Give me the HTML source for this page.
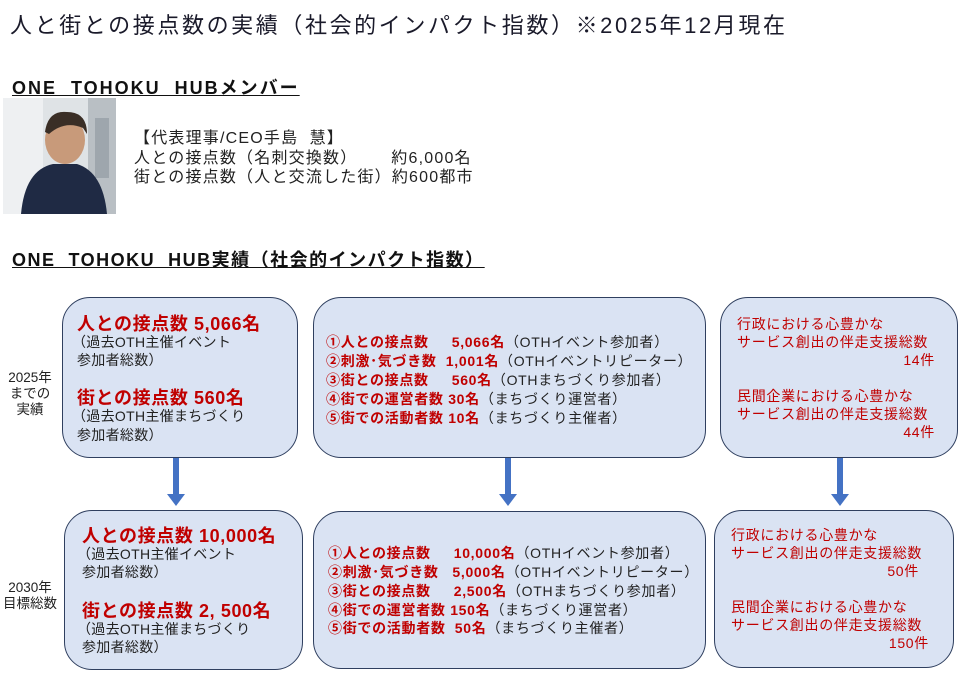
<!DOCTYPE html>
<html><head><meta charset="utf-8"><style>
body{margin:0;width:975px;height:676px;background:#fff;position:relative;overflow:hidden;font-family:"Liberation Sans","Noto Sans CJK JP",sans-serif;color:#222}
.a{position:absolute;white-space:pre;line-height:20px}
.box{position:absolute;background:#dae3f3;border:1.5px solid #2f3f5f;border-radius:28px;box-sizing:border-box}
.r{color:#c00000}
.b{font-weight:bold}
.s{font-size:14px;letter-spacing:0.3px}
.m{font-size:14px;letter-spacing:0.7px}
.h{font-size:18px;font-weight:bold;color:#c00000;letter-spacing:0.6px}
.arrow{position:absolute;width:6px;background:#4472c4}
.tri{position:absolute;width:0;height:0;border-left:9px solid transparent;border-right:9px solid transparent;border-top:12px solid #4472c4}
</style></head><body>
<div class="a" style="left:10px;top:12px;font-size:22px;line-height:28px;letter-spacing:2.6px;color:#1a1a2a">人と街との接点数の実績（社会的インパクト指数）※2025年12月現在</div>
<div class="a" style="left:12px;top:76px;font-size:18px;font-weight:bold;letter-spacing:2px;line-height:24px;text-decoration:underline;color:#111">ONE  TOHOKU  HUBメンバー</div>
<div class="a" style="left:12px;top:248px;font-size:18px;font-weight:bold;letter-spacing:1.5px;line-height:24px;text-decoration:underline;color:#111">ONE  TOHOKU  HUB実績（社会的インパクト指数）</div>

<svg style="position:absolute;left:3px;top:98px" width="113" height="116">
<rect width="113" height="116" fill="#dfe3e6"/>
<rect x="0" y="0" width="40" height="116" fill="#eef0f2"/>
<rect x="85" y="0" width="28" height="116" fill="#b9bfc4"/>
<rect x="92" y="20" width="14" height="60" fill="#9ea6ad"/>
<ellipse cx="62" cy="42" rx="20" ry="24" fill="#c89a7a"/>
<path d="M42 34 Q45 12 64 14 Q84 14 84 36 L80 30 Q62 22 46 36Z" fill="#3a2e26"/>
<path d="M18 116 Q22 72 50 66 L74 66 Q100 74 104 116Z" fill="#1f2a44"/>
</svg>
<div class="a" style="left:134px;top:129px;font-size:16px;letter-spacing:1.2px">【代表理事/CEO手島  慧】</div>
<div class="a" style="left:134px;top:149px;font-size:16px;letter-spacing:1.2px">人との接点数（名刺交換数）      約6,000名</div>
<div class="a" style="left:134px;top:168px;font-size:16px;letter-spacing:1.2px">街との接点数（人と交流した街）約600都市</div>

<div class="a s" style="left:0;width:60px;text-align:center;top:370px;line-height:16px;white-space:normal;font-size:13.5px;letter-spacing:0">2025年<br>までの<br>実績</div>
<div class="a s" style="left:0;width:60px;text-align:center;top:580px;line-height:16px;white-space:normal;font-size:13.5px;letter-spacing:0">2030年<br>目標総数</div>

<div class="box" style="left:62px;top:297px;width:236px;height:161px"></div>
<div class="box" style="left:313px;top:297px;width:393px;height:161px"></div>
<div class="box" style="left:720px;top:297px;width:238px;height:161px"></div>
<div class="box" style="left:64px;top:510px;width:239px;height:160px"></div>
<div class="box" style="left:313px;top:511px;width:393px;height:158px"></div>
<div class="box" style="left:714px;top:510px;width:240px;height:158px"></div>

<div class="arrow" style="left:173px;top:458px;height:36px"></div><div class="tri" style="left:167px;top:494px"></div>
<div class="arrow" style="left:505px;top:458px;height:36px"></div><div class="tri" style="left:499px;top:494px"></div>
<div class="arrow" style="left:837px;top:458px;height:36px"></div><div class="tri" style="left:831px;top:494px"></div>

<div class="a h" style="left:77px;top:314px">人との接点数 5,066名</div>
<div class="a s" style="left:72px;top:332px">（過去OTH主催イベント</div>
<div class="a s" style="left:77px;top:350px">参加者総数）</div>
<div class="a h" style="left:77px;top:388px">街との接点数 560名</div>
<div class="a s" style="left:72px;top:406px">（過去OTH主催まちづくり</div>
<div class="a s" style="left:77px;top:425px">参加者総数）</div>

<div class="a m" style="left:326px;top:332px"><span class="r b">①人との接点数     5,066名</span>（OTHイベント参加者）</div>
<div class="a m" style="left:326px;top:351px"><span class="r b">②刺激･気づき数  1,001名</span>（OTHイベントリピーター）</div>
<div class="a m" style="left:326px;top:370px"><span class="r b">③街との接点数     560名</span>（OTHまちづくり参加者）</div>
<div class="a m" style="left:326px;top:389px"><span class="r b">④街での運営者数 30名</span>（まちづくり運営者）</div>
<div class="a m" style="left:326px;top:408px"><span class="r b">⑤街での活動者数 10名</span>（まちづくり主催者）</div>

<div class="a m r" style="left:737px;top:314px">行政における心豊かな</div>
<div class="a m r" style="left:737px;top:332px">サービス創出の伴走支援総数</div>
<div class="a m r" style="left:737px;top:350px;width:198px;text-align:right">14件</div>
<div class="a m r" style="left:737px;top:386px">民間企業における心豊かな</div>
<div class="a m r" style="left:737px;top:404px">サービス創出の伴走支援総数</div>
<div class="a m r" style="left:737px;top:422px;width:198px;text-align:right">44件</div>

<div class="a h" style="left:82px;top:526px">人との接点数 10,000名</div>
<div class="a s" style="left:77px;top:544px">（過去OTH主催イベント</div>
<div class="a s" style="left:82px;top:562px">参加者総数）</div>
<div class="a h" style="left:82px;top:601px">街との接点数 2, 500名</div>
<div class="a s" style="left:77px;top:619px">（過去OTH主催まちづくり</div>
<div class="a s" style="left:82px;top:637px">参加者総数）</div>

<div class="a m" style="left:328px;top:543px"><span class="r b">①人との接点数     10,000名</span>（OTHイベント参加者）</div>
<div class="a m" style="left:328px;top:562px"><span class="r b">②刺激･気づき数   5,000名</span>（OTHイベントリピーター）</div>
<div class="a m" style="left:328px;top:581px"><span class="r b">③街との接点数     2,500名</span>（OTHまちづくり参加者）</div>
<div class="a m" style="left:328px;top:600px"><span class="r b">④街での運営者数 150名</span>（まちづくり運営者）</div>
<div class="a m" style="left:328px;top:618px"><span class="r b">⑤街での活動者数  50名</span>（まちづくり主催者）</div>

<div class="a m r" style="left:731px;top:525px">行政における心豊かな</div>
<div class="a m r" style="left:731px;top:543px">サービス創出の伴走支援総数</div>
<div class="a m r" style="left:731px;top:561px;width:188px;text-align:right">50件</div>
<div class="a m r" style="left:731px;top:597px">民間企業における心豊かな</div>
<div class="a m r" style="left:731px;top:615px">サービス創出の伴走支援総数</div>
<div class="a m r" style="left:731px;top:633px;width:198px;text-align:right">150件</div>
</body></html>
